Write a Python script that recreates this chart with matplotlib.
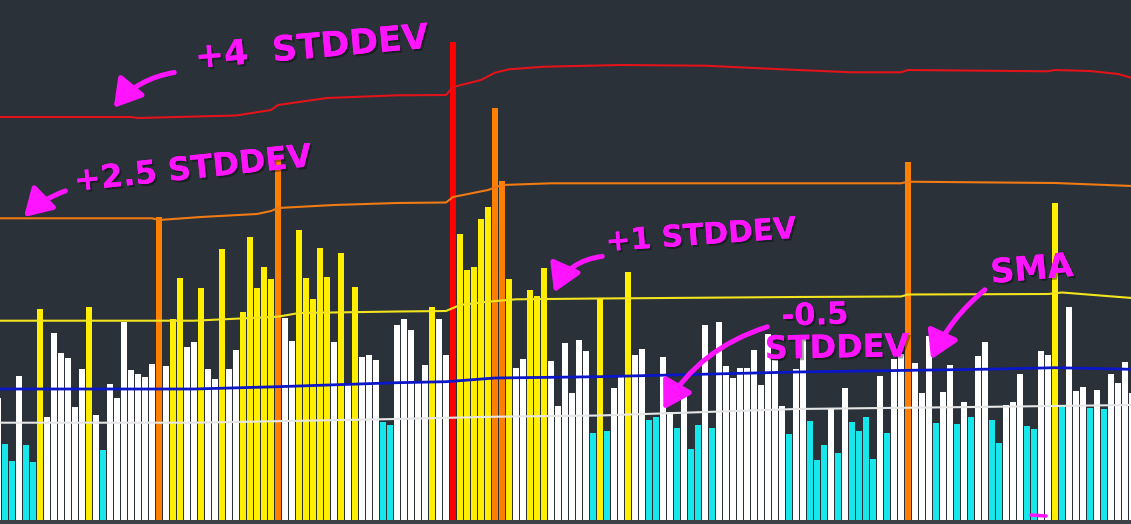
import matplotlib
matplotlib.use('Agg')
import matplotlib.pyplot as plt
import matplotlib.patheffects as pe
from matplotlib.patches import FancyArrowPatch

# ---------------- data ----------------
bar_index = list(range(-1, 162))
volume = [122,
          76, 59, 144, 75, 58, 211, 103, 187, 167, 162,
          113, 151, 213, 105, 70, 136, 122, 198, 150, 146,
          143, 156, 303, 154, 201, 242, 173, 178, 232, 151,
          141, 271, 151, 170, 208, 283, 232, 253, 241, 363,
          202, 179, 290, 242, 221, 272, 243, 178, 267, 135,
          233, 163, 165, 160, 98, 95, 195, 201, 190, 137,
          155, 213, 201, 165, 478, 286, 250, 253, 301, 313,
          412, 339, 241, 152, 161, 230, 224, 252, 159, 114,
          177, 127, 180, 169, 87, 222, 89, 132, 145, 248,
          165, 171, 100, 103, 163, 108, 92, 126, 71, 95,
          195, 92, 198, 154, 142, 152, 152, 170, 135, 186,
          160, 114, 86, 151, 183, 99, 60, 75, 111, 67,
          132, 98, 89, 103, 61, 144, 87, 161, 166, 358,
          157, 127, 184, 97, 128, 155, 96, 118, 103, 164,
          178, 100, 77, 115, 118, 146, 94, 91, 169, 165,
          317, 114, 213, 129, 133, 112, 130, 111, 146, 137,
          158, 127]
bar_class = list("W"
                 "CCWCCYWWWW" "WWYWCWWWWW" "WWOWYYWWYW" "WYWWYYYYYO"
                 "WWYYYYYWYW" "YWWWCCWWWW" "WYWWRYYYYY" "OOYWWYYYWW"
                 "WWWWCYCWWY" "WWCCWWCWCC" "WCWWWWWWWW" "WWCWWCCCWC"
                 "WCCCCWCWWO" "WWWCWWCWCW" "WCCWWWCCWW" "YCWWWCWCWW"
                 "WW")

# band lines sampled at bar indices
plus4_idx = [-1, 18, 19, 33, 38, 39, 41, 46, 56, 63, 64, 68, 70, 72, 77, 88, 100, 111, 121, 128, 129, 149, 150, 155, 159, 161]
plus4_val = [403, 403, 402, 404.5, 410, 415, 417, 422, 424.7, 425, 433, 440, 447.3, 450.7, 453.3, 455, 454.3, 450.7, 447.7, 447.7, 450, 448.7, 450, 449, 446, 442]

plus25_idx = [-1, 21, 22, 28, 36, 38, 39, 47, 56, 63, 64, 69, 71, 78, 128, 129, 150, 161]
plus25_val = [301.7, 301.7, 300, 303, 306, 309, 312, 315, 317, 317.5, 323, 330, 335, 336.7, 336.7, 338.3, 337, 334]

plus1_idx = [-1, 27, 39, 42, 56, 63, 65, 69, 73, 85, 113, 128, 129, 149, 151, 161]
plus1_val = [199.3, 199.3, 203.3, 207, 208.5, 209, 215, 218.3, 220.7, 221.5, 223, 223.5, 225.5, 226, 227.5, 222]

sma_idx = [-1, 27, 39, 56, 63, 70, 85, 113, 142, 150, 161]
sma_val = [131, 131, 133.3, 137.3, 138.3, 142, 143.3, 148, 151, 152.3, 150.7]

minus05_idx = [-1, 27, 56, 70, 85, 113, 142, 161]
minus05_val = [97.3, 97.3, 101, 103.3, 104.5, 111, 113.3, 115]

# ---------------- style ----------------
W, H = 1131, 524
BG = '#2a3138'
bar_colors = {'W': '#ffffff', 'C': '#17e6ea', 'Y': '#ffee00', 'O': '#ff7f00', 'R': '#ff0000'}
MAG = '#ff14ff'

fig = plt.figure(figsize=(W / 100, H / 100), dpi=100, facecolor='#3c4248')
ax = fig.add_axes([0, 4 / H, 1, (H - 4) / H])
ax.set_facecolor(BG)
ax.bar(bar_index, volume, width=0.72, color=[bar_colors[c] for c in bar_class],
       linewidth=0, zorder=2)
ax.plot(plus4_idx, plus4_val, color='#e0141a', lw=1.5, zorder=3)
ax.plot(plus25_idx, plus25_val, color='#f07a14', lw=1.5, zorder=3)
ax.plot(plus1_idx, plus1_val, color='#f2e41e', lw=1.5, zorder=3)
ax.plot(sma_idx, sma_val, color='#0a16c8', lw=2.0, zorder=3)
ax.plot(minus05_idx, minus05_val, color='#e6e6e6', lw=1.5, zorder=3)
ax.set_xlim(-5 / 7, 1126 / 7)
ax.set_ylim(0, 520)
for s in ax.spines.values():
    s.set_visible(False)
ax.set_xticks([])
ax.set_yticks([])

# ---------------- annotation overlay (pixel coordinates) ----------------
ov = fig.add_axes([0, 0, 1, 1])
ov.patch.set_alpha(0)
ov.set_xlim(0, W)
ov.set_ylim(H, 0)
ov.axis('off')

shadow = [pe.withSimplePatchShadow(offset=(1.5, -1.5), shadow_rgbFace='#000000', alpha=0.35), pe.Normal()]

def label(x, y, s, size, rot):
    ov.text(x, y, s, fontsize=size, fontweight='bold', color=MAG, ha='center', va='center',
            rotation=rot, rotation_mode='anchor', path_effects=shadow, family='DejaVu Sans')

def arrow(p0, p1, rad):
    a = FancyArrowPatch(p0, p1, arrowstyle='-|>,head_length=0.75,head_width=0.45',
                        connectionstyle=f'arc3,rad={rad}', mutation_scale=22,
                        color=MAG, lw=3.6, capstyle='round', joinstyle='round')
    ov.add_patch(a)

label(312, 48, '+4  STDDEV', 25, 5)
arrow((177, 72), (112, 110), 0.2)

label(193, 170, '+2.5 STDDEV', 23, 6)
arrow((68, 190), (22, 219), 0.12)

label(701, 236, '+1 STDDEV', 21.5, 4)
arrow((605, 256), (553, 295), 0.3)

label(815, 316, '-0.5', 22, 2)
label(837, 349, 'STDDEV', 23, 1)
arrow((770, 326), (662, 412), 0.2)

label(1032, 270, 'SMA', 24, 5)
arrow((987, 288), (930, 362), 0.12)

ov.plot([1031, 1046], [515, 516], color=MAG, lw=2.5, solid_capstyle='round')

fig.savefig('out.png', dpi=100, facecolor=fig.get_facecolor())
